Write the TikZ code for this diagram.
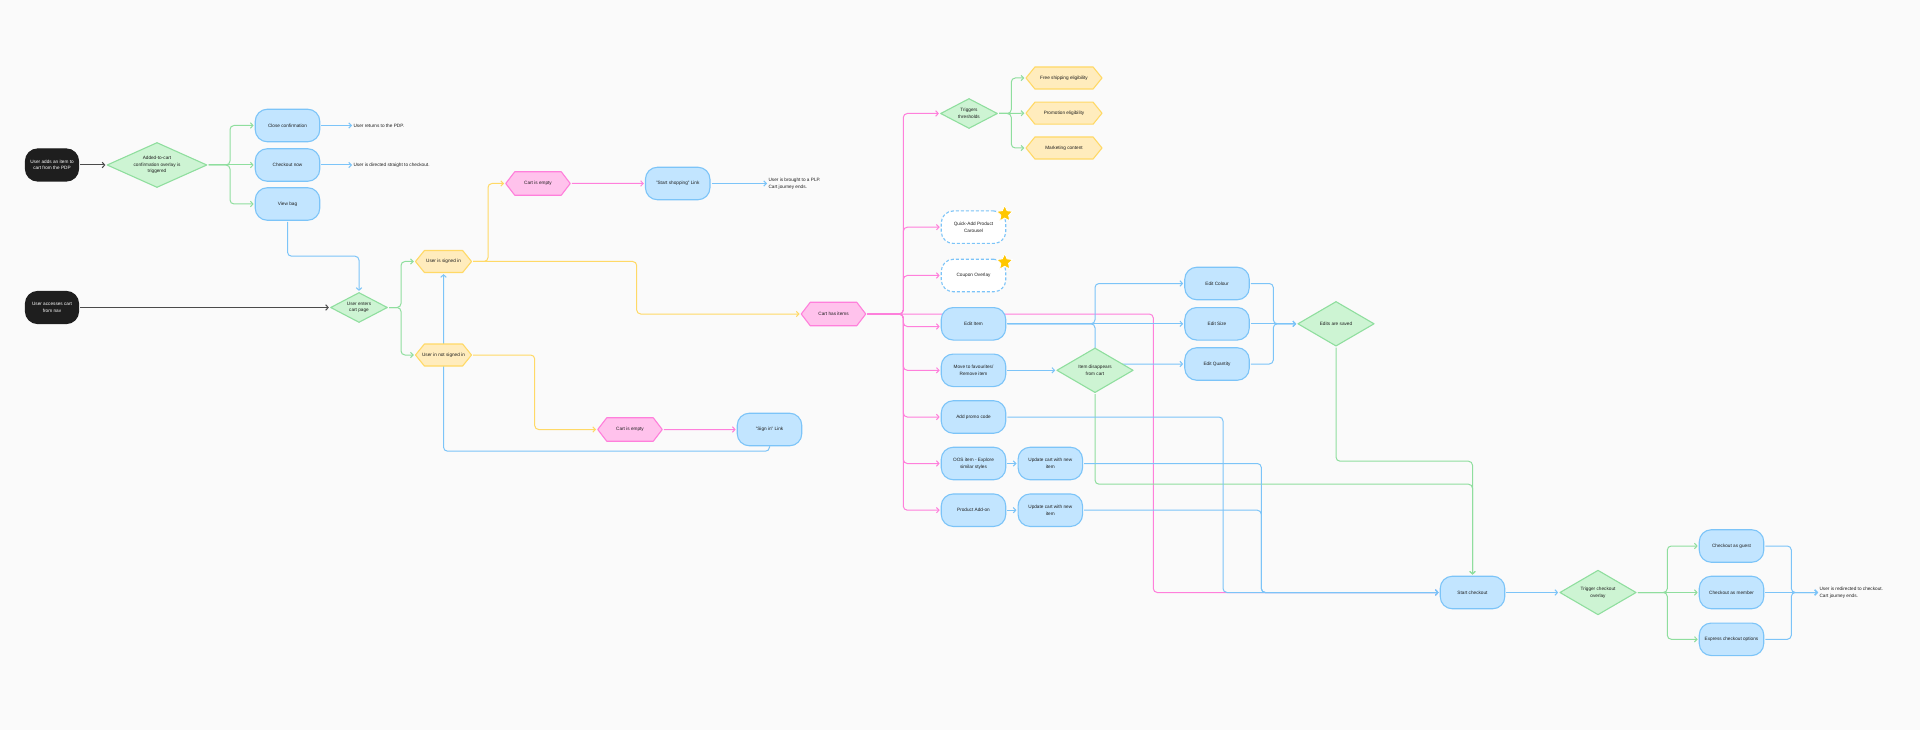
\documentclass[tikz,border=0pt]{standalone}
\usepackage{fontspec}
\setmainfont{Liberation Sans}
\usetikzlibrary{shapes.geometric,shapes.symbols,arrows.meta,calc}
\definecolor{bgc}{HTML}{FAFAFA}
\definecolor{bluef}{HTML}{C2E5FF}
\definecolor{blues}{HTML}{7CC4F8}
\definecolor{greenf}{HTML}{CDF4D3}
\definecolor{greens}{HTML}{8FDE9E}
\definecolor{yellowf}{HTML}{FFECBD}
\definecolor{yellows}{HTML}{FFD966}
\definecolor{pinkf}{HTML}{FFC2EC}
\definecolor{pinks}{HTML}{FF7FDB}
\definecolor{ink}{HTML}{1E1E1E}
\definecolor{starc}{HTML}{FFC700}
\pgfdeclarelayer{bglayer}
\pgfdeclarelayer{conn}
\pgfsetlayers{bglayer,conn,main}
\tikzset{
  base/.style={font=\fontsize{4.7}{6.6}\selectfont,text=ink,align=center,inner sep=0pt,line width=1.1pt},
  bluebox/.style={base,rectangle,rounded corners=12pt,draw=blues,fill=bluef,minimum width=64.5pt,minimum height=32.5pt},
  dashbox/.style={base,rectangle,rounded corners=12pt,draw=blues,fill=white,dash pattern=on 3pt off 2pt,minimum width=64.5pt,minimum height=32.5pt},
  blackbox/.style={base,rectangle,rounded corners=12pt,draw=ink,fill=ink,text=white,minimum width=53pt,minimum height=32pt},
  dia/.style={base,diamond,draw=greens,fill=greenf,line join=round},
  diabig/.style={dia,aspect=1.71,minimum width=76.5pt,minimum height=44.7pt},
  diasmall/.style={dia,aspect=1.9,minimum width=57pt,minimum height=30pt},
  hexy/.style={base,signal,signal to=east and west,signal pointer angle=102,draw=yellows,fill=yellowf,line join=round,minimum width=56pt,minimum height=22pt},
  hexw/.style={hexy,minimum width=76pt},
  hexp/.style={base,signal,signal to=east and west,signal pointer angle=105,draw=pinks,fill=pinkf,line join=round,minimum width=64.5pt,minimum height=23.5pt},
  txt/.style={base,anchor=west,align=left},
  starn/.style={star,star points=5,star point ratio=2.1,fill=starc,draw=white,line width=.8pt,line join=round,minimum size=17pt,inner sep=0pt},
  conn/.style={-{Straight Barb[length=2.6pt,width=5.4pt]},line width=1pt,rounded corners=4pt,shorten >=1pt,shorten <=1pt},
  cb/.style={conn,draw=blues},
  cg/.style={conn,draw=greens},
  cy/.style={conn,draw=yellows},
  cp/.style={conn,draw=pinks},
  ck/.style={conn,draw=ink!80}
}
\begin{document}
\begin{tikzpicture}[x=1pt,y=-1pt]
\useasboundingbox (0,-0.5) rectangle (1920,729.5);
\begin{pgfonlayer}{bglayer}
\fill[bgc] (0,-0.5) rectangle (1920,729.5);
\end{pgfonlayer}
% left part
\node[blackbox] (b1) at (52,164.5) {User adds an item to\\cart from the PDP};
\node[blackbox] (b2) at (52,307) {User accesses cart\\from nav};
\node[dia,aspect=2.2,minimum width=100pt,minimum height=45pt] (d1) at (157,164.5) {Added-to-cart\\confirmation overlay is\\triggered};
\node[bluebox] (close) at (287.5,125) {Close confirmation};
\node[bluebox] (now) at (287.5,164.5) {Checkout now};
\node[bluebox] (view) at (287.5,203.5) {View bag};
\node[txt] (t1) at (353,125) {User returns to the PDP.};
\node[txt] (t2) at (353,164.5) {User is directed straight to checkout.};
\node[diasmall] (d2) at (359,307) {User enters\\cart page};
\node[hexy] (signed) at (443.5,261) {\makebox[0pt]{User is signed in}};
\node[hexy] (notsigned) at (443.5,354.5) {\makebox[0pt]{User in not signed in}};
\node[hexp] (empty1) at (538,183) {\makebox[0pt]{Cart is empty}};
\node[bluebox] (shop) at (677.7,183) {"Start shopping" Link};
\node[txt] (t3) at (768,183) {User is brought to a PLP.\\Cart journey ends.};
\node[hexp] (empty2) at (630,429) {\makebox[0pt]{Cart is empty}};
\node[bluebox] (sign) at (769.5,429) {"Sign in" Link};
\node[hexp] (items) at (833.5,313.5) {\makebox[0pt]{Cart has items}};
% middle column
\node[diasmall] (trig) at (969,113) {Triggers\\thresholds};
\node[hexw] (free) at (1064,77.5) {\makebox[0pt]{Free shipping eligibility}};
\node[hexw] (promo) at (1064,112.7) {\makebox[0pt]{Promotion eligibility}};
\node[hexw] (mkt) at (1064,147.5) {\makebox[0pt]{Marketing content}};
\node[dashbox] (quick) at (973.5,226.7) {Quick-Add Product\\Carousel};
\node[dashbox] (coupon) at (973.5,275) {Coupon Overlay};
\node[starn] (s1) at (1004.7,213.5) {};
\node[starn] (s2) at (1004.7,261.7) {};
\node[bluebox] (edit) at (973.5,323.3) {Edit Item};
\node[bluebox] (move) at (973.5,369.8) {Move to favourites/\\Remove item};
\node[bluebox] (code) at (973.5,416.5) {Add promo code};
\node[bluebox] (cos) at (973.5,463) {OOS item - Explore\\similar styles};
\node[bluebox] (addon) at (973.5,509.7) {Product Add-on};
\node[bluebox] (up1) at (1050.3,463) {Update cart with new\\item};
\node[bluebox] (up2) at (1050.3,509.7) {Update cart with new\\item};
\node[diabig] (gone) at (1095,369.8) {Item disappears\\from cart};
\node[bluebox] (colour) at (1217,283) {Edit Colour};
\node[bluebox] (size) at (1217,323.3) {Edit Size};
\node[bluebox] (qty) at (1217,363.5) {Edit Quantity};
\node[diabig] (saved) at (1336,323.3) {Edits are saved};
% right part
\node[bluebox] (start) at (1472.5,592) {Start checkout};
\node[diabig] (trigc) at (1598,592) {Trigger checkout\\overlay};
\node[bluebox] (guest) at (1731.5,545.5) {Checkout as guest};
\node[bluebox] (member) at (1731.5,592) {Checkout as member};
\node[bluebox] (express) at (1731.5,638.8) {Express checkout options};
\node[txt] (t4) at (1819,592) {User is redirected to checkout.\\Cart journey ends.};
% junctions
\coordinate (j1) at (230,164.5);
\coordinate (j2) at (401,307);
\coordinate (j3) at (488,261);
\coordinate (j4) at (636.7,261);
\coordinate (j5) at (534.7,354.5);
\coordinate (jp) at (903.3,313.5);
\coordinate (jt) at (1011.3,113);
\coordinate (je) at (1095,323.3);
\coordinate (jm) at (1273.3,323.3);
\coordinate (jc) at (1667.3,592);
\coordinate (jx) at (1791.3,592);
\begin{pgfonlayer}{conn}
\draw[ck] (b1) -- (d1);
\draw[ck] (b2) -- (d2);
\draw[cg] (d1) -- (j1) |- (close.west);
\draw[cg] (d1) -- (now);
\draw[cg] (d1) -- (j1) |- (view.west);
\draw[cb] (close) -- (t1);
\draw[cb] (now) -- (t2);
\draw[cb] (view.south) |- (359,255.7) -- (d2.north);
\draw[cg] (d2) -- (j2) |- (signed.west);
\draw[cg] (d2) -- (j2) |- (notsigned.west);
\draw[cy] (signed.east) -- (j3) |- (empty1.west);
\draw[cy] (signed.east) -- (j4) |- (items.west);
\draw[cy] (notsigned.east) -- (j5) |- (empty2.west);
\draw[cp] (empty1) -- (shop);
\draw[cb] (shop) -- (t3);
\draw[cp] (empty2) -- (sign);
\draw[cb] (sign.south) |- (443.5,450.7) -- (signed.south);
\draw[cp] (items.east) -- (jp) |- (trig.west);
\draw[cp] (items.east) -- (jp) |- (quick.west);
\draw[cp] (items.east) -- (jp) |- (coupon.west);
\draw[cp] (items.east) -- (jp) |- ($(edit.west)+(0,2.7)$);
\draw[cp] (items.east) -- (jp) |- (move.west);
\draw[cp] (items.east) -- (jp) |- (code.west);
\draw[cp] (items.east) -- (jp) |- (cos.west);
\draw[cp] (items.east) -- (jp) |- (addon.west);
\draw[cp] (items.east) -| (1153.3,592) -- (start.west);
\draw[cg] (trig.east) -- (jt) |- (free.west);
\draw[cg] (trig.east) -- (promo.west);
\draw[cg] (trig.east) -- (jt) |- (mkt.west);
\draw[cb] (edit.east) -- (je) |- (colour.west);
\draw[cb] (edit.east) -- (size.west);
\draw[cb] (edit.east) -- (je) |- (qty.west);
\draw[cb] (move) -- (gone);
\draw[cb] (cos) -- (up1);
\draw[cb] (addon) -- (up2);
\draw[cb] (colour.east) -| (jm) -- (saved.west);
\draw[cb] (size) -- (saved);
\draw[cb] (qty.east) -| (jm) -- (saved.west);
\draw[cg] (gone.south) |- (1472.5,483.7) -- (start.north);
\draw[cg] (saved.south) |- (1472.5,460.7) -- (start.north);
\draw[cb] (code.east) -| (1223,592) -- (start.west);
\draw[cb] (up1.east) -| (1261.3,592) -- (start.west);
\draw[cb] (up2.east) -| (1261.3,592) -- (start.west);
\draw[cb] (start) -- (trigc);
\draw[cg] (trigc.east) -- (jc) |- (guest.west);
\draw[cg] (trigc) -- (member);
\draw[cg] (trigc.east) -- (jc) |- (express.west);
\draw[cb] (guest.east) -| (jx) -- (t4.west);
\draw[cb] (member) -- (t4);
\draw[cb] (express.east) -| (jx) -- (t4.west);
\end{pgfonlayer}
\end{tikzpicture}
\end{document}
